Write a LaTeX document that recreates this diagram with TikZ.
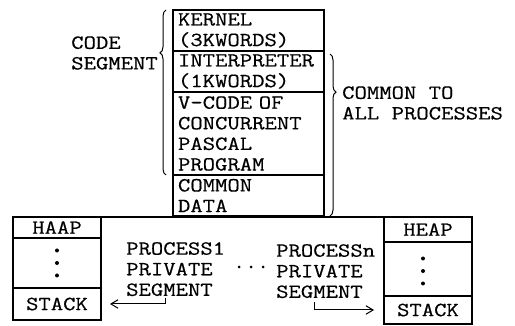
\documentclass[tikz,border=0pt]{standalone}
\usepackage{fontspec}
\setmonofont{Latin Modern Mono}[FakeStretch=1.2, FakeBold=0.5]
\usetikzlibrary{arrows.meta, positioning, decorations.pathreplacing, calc}

\begin{document}
\begin{tikzpicture}[
        x=1pt, y=-1pt,
        every node/.style={font=\ttfamily\fontsize{20}{20.6}\selectfont},
        seg/.style={rectangle, draw, line width=1.3pt, outer sep=0pt, minimum width=151pt, text width=141pt, align=left, inner xsep=5pt, inner ysep=0pt},
        cell/.style={rectangle, draw, line width=1.3pt, outer sep=0pt, minimum width=88pt, inner sep=0pt},
        brace/.style={decorate, line width=1pt},
        arrow/.style={-{Straight Barb[length=2.5mm, width=3mm]}, line width=1pt},
        label/.style={align=left, inner sep=0pt}
    ]
    \useasboundingbox (0,0) rectangle (515,326);

    % Common code and data
    \node (kernel) [seg, anchor=north west, minimum height=41pt] at (173,10) {KERNEL\\(3KWORDS)};
    \node (interp) [seg, below=0pt of kernel, minimum height=41pt] {INTERPRETER\\(1KWORDS)};
    \node (vcode) [seg, below=0pt of interp, minimum height=83pt] {V-CODE OF\\CONCURRENT\\PASCAL\\PROGRAM};
    \node (cdata) [seg, below=0pt of vcode, minimum height=41pt] {COMMON\\DATA};

    \draw[brace, decoration={brace, amplitude=6pt, aspect=0.74}] ($(vcode.south west)+(-7,0)$) -- ($(kernel.north west)+(-7,0)$);
    \node (codeseg) [label, anchor=east] at (158,53) {CODE\\SEGMENT};
    \draw[brace, decoration={brace, amplitude=6pt, aspect=0.235}] ($(interp.north east)+(6,3)$) -- ($(cdata.south east)+(6,0)$);
    \node (common) [label, anchor=west] at (342,103) {COMMON TO\\ALL PROCESSES};

    % Process 1
    \node (haap1) [cell, anchor=north west, minimum height=21pt] at (13,217) {HAAP};
    \node (mid1) [cell, below=0pt of haap1, minimum height=50pt] {};
    \node (stack1) [cell, below=0pt of mid1, minimum height=32pt] {STACK};
    \foreach \dy in {-12.5,0,12.5}
        \fill ($(mid1.center)+(0,\dy)$) circle (2pt);

    % Process n
    \node (heapn) [cell, anchor=north west, minimum height=25pt] at (384,217) {HEAP};
    \node (midn) [cell, below=0pt of heapn, minimum height=54pt] {};
    \node (stackn) [cell, below=0pt of midn, minimum height=28pt] {STACK};
    \foreach \dy in {-12.5,0,12.5}
        \fill ($(midn.center)+(-5,\dy+2)$) circle (2pt);

    \draw[line width=1.3pt] (haap1.north west) -- (heapn.north east);

    % Private segments
    \node (proc1) [label, anchor=north west] at (126,242) {PROCESS1\\PRIVATE\\SEGMENT};
    \node (procn) [label, anchor=north west] at (276,244) {PROCESSn\\PRIVATE\\SEGMENT};
    \foreach \x in {239,251,263}
        \fill (\x,267) circle (1.5pt);

    \coordinate (tail1) at (165,298);
    \coordinate (tailn) at (314,302);
    \draw[arrow] (tail1) |- ([xshift=9pt]stack1.east);
    \draw[arrow] (tailn) |- ([xshift=-10pt]stackn.west);

\end{tikzpicture}
\end{document}
